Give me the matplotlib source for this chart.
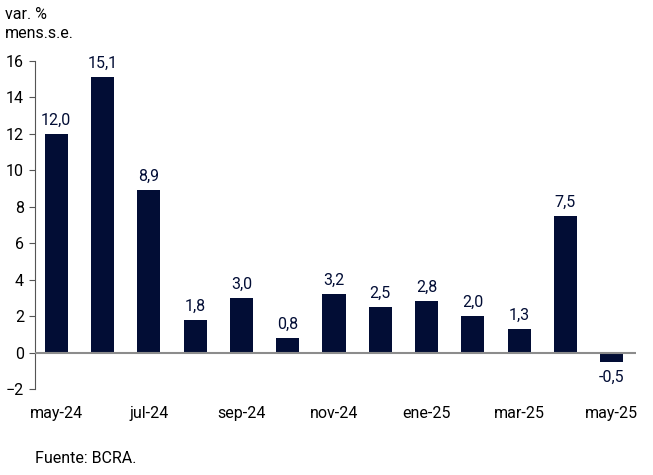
import numpy as np
import matplotlib
matplotlib.use("Agg")
import matplotlib.pyplot as plt

plt.rcParams['font.family'] = ['Roboto', 'DejaVu Sans']

meses = ['may-24', 'jun-24', 'jul-24', 'ago-24', 'sep-24', 'oct-24', 'nov-24',
         'dic-24', 'ene-25', 'feb-25', 'mar-25', 'abr-25', 'may-25']
valores = [12.0, 15.1, 8.9, 1.8, 3.0, 0.8, 3.2, 2.5, 2.8, 2.0, 1.3, 7.5, -0.5]

color = '#020d35'
fs = 11.5

fig = plt.figure(figsize=(6.53, 4.75), dpi=100)
ax = fig.add_axes([0.0536, 0.181, 0.92, 0.691])

x = np.arange(len(meses))
ax.bar(x, valores, width=0.5, color=color, zorder=2)
ax.axhline(0, color='#8c8c8c', lw=1.5, zorder=3)

for xi, v in zip(x, valores):
    txt = f'{v:.1f}'.replace('.', ',')
    if v >= 0:
        ax.text(xi, v + 0.35, txt, ha='center', va='bottom', fontsize=fs, color=color)
    else:
        ax.text(xi, v - 0.45, txt, ha='center', va='top', fontsize=fs, color=color)

ax.set_xlim(-0.46, 12.52)
ax.set_ylim(-2, 16)
ax.set_yticks(range(-2, 17, 2))
ax.set_xticks(x[::2])
ax.set_xticklabels(meses[::2])

for s in ['top', 'right', 'bottom']:
    ax.spines[s].set_visible(False)
ax.spines['left'].set_color('#555555')
ax.tick_params(axis='y', length=4, color='#555555', labelsize=fs, pad=4)
ax.tick_params(axis='x', length=0, labelsize=fs, pad=12)

fig.text(0.008, 0.985, 'var. %\nmens.s.e.', ha='left', va='top', fontsize=fs, linespacing=1.3)
fig.text(0.054, 0.035, 'Fuente: BCRA.', ha='left', va='center', fontsize=fs)

fig.savefig('out.png', dpi=100)
